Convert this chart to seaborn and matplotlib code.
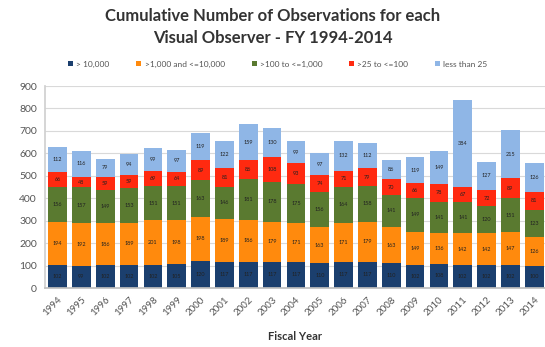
import matplotlib
matplotlib.use("Agg")
import matplotlib.pyplot as plt
import seaborn as sns
import numpy as np
import pandas as pd

years = [str(y) for y in range(1994, 2015)]
over_10000 = [102, 99, 102, 102, 102, 105, 120, 117, 117, 117, 117, 110, 117, 117, 110, 102, 108, 102, 102, 102, 100]
k1_to_10k = [194, 192, 186, 189, 201, 198, 198, 189, 186, 179, 171, 163, 171, 179, 163, 149, 136, 142, 142, 147, 126]
h100_to_1k = [156, 157, 149, 153, 151, 151, 163, 146, 181, 178, 175, 156, 164, 158, 141, 149, 141, 141, 120, 151, 123]
t25_to_100 = [66, 48, 59, 59, 69, 64, 89, 81, 86, 108, 93, 74, 71, 79, 70, 66, 78, 67, 72, 89, 81]
under_25 = [112, 116, 79, 94, 99, 97, 119, 122, 159, 130, 99, 97, 132, 112, 86, 119, 149, 384, 127, 215, 126]

series_names = ["> 10,000", ">1,000 and <=10,000", ">100 to <=1,000", ">25 to <=100", "less than 25"]
series_vals = [over_10000, k1_to_10k, h100_to_1k, t25_to_100, under_25]
colors = ["#1b3f6e", "#ff8a0d", "#5a7a30", "#ff2a10", "#8fb6e6"]

sns.set_theme(style="white")
plt.rcParams['font.family'] = ['Lato', 'DejaVu Sans']

fig = plt.figure(figsize=(5.45, 3.47), dpi=100)
ax = fig.add_axes([0.083, 0.170, 0.917, 0.582])

bottom = np.zeros(len(years))
for name, vals, c in zip(series_names, series_vals, colors):
    df = pd.DataFrame({"year": years, "value": vals})
    sns.barplot(data=df, x="year", y="value", color=c, bottom=bottom, width=0.78,
                ax=ax, saturation=1, linewidth=0, label=name)
    cont = ax.containers[-1]
    ax.bar_label(cont, labels=[str(v) for v in vals], label_type="center",
                 fontsize=4, color="#222222")
    bottom = bottom + np.array(vals)

h, l = ax.get_legend_handles_labels()
if ax.get_legend() is not None:
    ax.get_legend().remove()

ax.set_ylim(0, 900)
ax.set_xlim(-0.52, 20.45)
ax.set_yticks(range(0, 901, 100))
ax.yaxis.grid(True, color="#d9d9d9", linewidth=0.8)
ax.set_axisbelow(True)
for s in ["top", "right"]:
    ax.spines[s].set_visible(False)
ax.spines["left"].set_color("#d0d0d0")
ax.spines["bottom"].set_color("#bfbfbf")
ax.tick_params(axis="y", labelsize=7.5, colors="#555555", length=0, pad=6)
ax.tick_params(axis="x", labelsize=7, colors="#555555", length=0, pad=5)
plt.setp(ax.get_xticklabels(), rotation=45, ha="right", rotation_mode="anchor")
ax.set_ylabel("")
ax.set_xlabel("Fiscal Year", fontsize=8, fontweight="bold", color="#333333", labelpad=10)

fig.text(0.5, 0.955, "Cumulative Number of Observations for each", ha="center", va="center",
         fontsize=12, fontweight="bold", color="#333333")
fig.text(0.5, 0.891, "Visual Observer - FY 1994-2014", ha="center", va="center",
         fontsize=12, fontweight="bold", color="#333333")

fig.legend(h, l, loc="center", bbox_to_anchor=(0.51, 0.815), ncol=5, frameon=False,
           fontsize=6, handlelength=0.6, handleheight=0.6, handletextpad=0.4,
           columnspacing=3.2, labelcolor="#555555")

fig.savefig("out.png", dpi=100)
